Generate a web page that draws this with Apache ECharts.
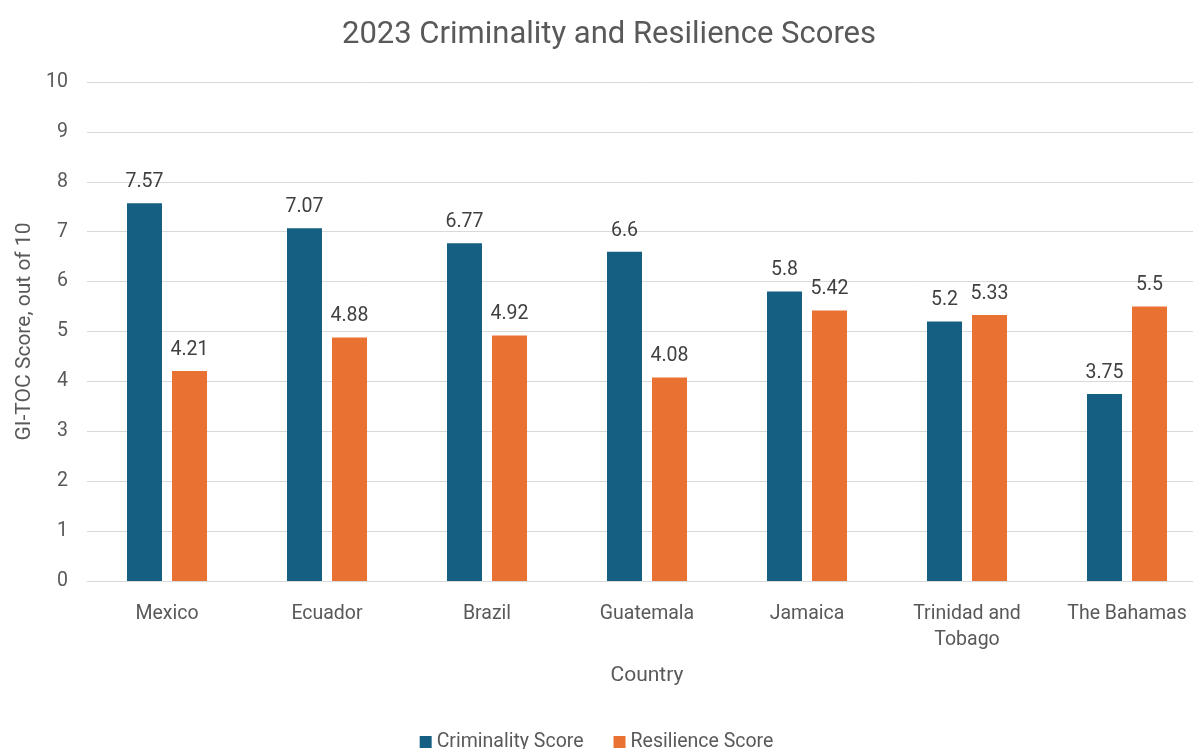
<!DOCTYPE html>
<html>
<head>
<meta charset="utf-8">
<script src="https://cdn.jsdelivr.net/npm/echarts@6/dist/echarts.min.js"></script>
<style>
html,body{margin:0;padding:0;background:#fff;}
#chart{width:1193px;height:749px;}
</style>
</head>
<body>
<div id="chart"></div>
<script>
var categories = ['Mexico', 'Ecuador', 'Brazil', 'Guatemala', 'Jamaica', 'Trinidad and\nTobago', 'The Bahamas'];
var criminality = [7.57, 7.07, 6.77, 6.6, 5.8, 5.2, 3.75];
var resilience = [4.21, 4.88, 4.92, 4.08, 5.42, 5.33, 5.5];
var yTicks = [0, 1, 2, 3, 4, 5, 6, 7, 8, 9, 10];

var FONT = 'Roboto, "Liberation Sans", sans-serif';
var chart = echarts.init(document.getElementById('chart'), null, {renderer: 'canvas'});
var labelStyle = {show: true, position: 'top', distance: 11, color: '#404040', fontSize: 19.5, fontFamily: FONT};
chart.setOption({
  animation: false,
  backgroundColor: '#ffffff',
  title: {
    text: '2023 Criminality and Resilience Scores',
    left: 604, top: 15, textAlign: 'center',
    textStyle: {color: '#595959', fontSize: 31, fontWeight: 'normal', fontFamily: FONT}
  },
  legend: {
    top: 727, left: 'center',
    itemWidth: 12, itemHeight: 12, itemGap: 30,
    icon: 'rect',
    textStyle: {color: '#595959', fontSize: 19.5, fontFamily: FONT},
    data: ['Criminality Score', 'Resilience Score']
  },
  grid: {left: 87, top: 82, right: -14, height: 499, containLabel: false, outerBoundsMode: 'none'},
  xAxis: {
    type: 'category',
    data: categories,
    name: 'Country',
    nameLocation: 'middle', nameGap: 84,
    nameTextStyle: {color: '#595959', fontSize: 21, fontFamily: FONT},
    axisLine: {lineStyle: {color: '#d9d9d9', width: 1}},
    axisTick: {show: false},
    axisLabel: {color: '#595959', fontSize: 19.5, fontFamily: FONT, margin: 20, lineHeight: 26, interval: 0}
  },
  yAxis: {
    type: 'value',
    min: yTicks[0], max: yTicks[yTicks.length - 1], interval: 1,
    name: 'GI-TOC Score, out of 10',
    nameLocation: 'middle', nameGap: 50,
    nameTextStyle: {color: '#595959', fontSize: 21, fontFamily: FONT},
    axisLine: {show: false},
    axisTick: {show: false},
    splitLine: {lineStyle: {color: '#d9d9d9', width: 1}},
    axisLabel: {color: '#595959', fontSize: 19.5, fontFamily: FONT, margin: 19}
  },
  series: [{
    name: 'Criminality Score', type: 'bar', data: criminality,
    barWidth: 35, barGap: '28.6%',
    itemStyle: {color: '#156082'},
    label: labelStyle
  }, {
    name: 'Resilience Score', type: 'bar', data: resilience,
    barWidth: 35,
    itemStyle: {color: '#E97132'},
    label: labelStyle
  }]
});
</script>
</body>
</html>
